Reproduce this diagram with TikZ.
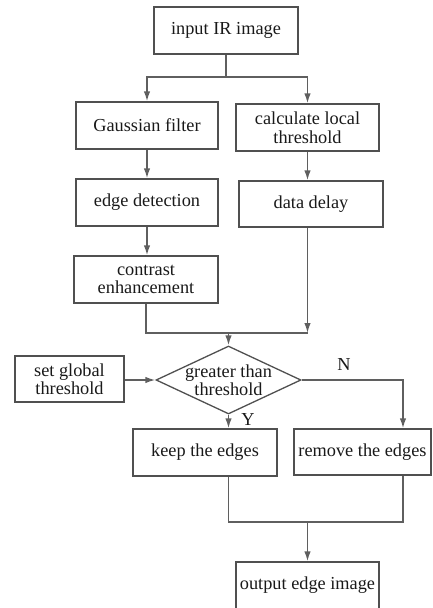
\documentclass[tikz,border=0pt]{standalone}
\usepackage{fontspec}
\setmainfont{Liberation Serif}
\usetikzlibrary{shapes.geometric,arrows.meta}

\definecolor{linegray}{RGB}{95,95,95}
\definecolor{boxgray}{RGB}{80,80,80}
\definecolor{textdark}{RGB}{25,25,25}

\tikzset{
    box/.style={draw=boxgray, line width=1.4pt, rectangle, inner sep=0pt,
        minimum height=47pt, align=center, text=textdark,
        font=\fontsize{18.3}{18.5}\selectfont},
    decision/.style={draw=boxgray, line width=1.3pt, diamond, aspect=2.13,
        inner sep=-6pt, minimum width=145pt, minimum height=68pt,
        align=center, text=textdark, font=\fontsize{18.3}{18.5}\selectfont},
    flow/.style={draw=linegray, line width=1.5pt},
    tag/.style={text=textdark, inner sep=0pt, font=\fontsize{18.3}{18.5}\selectfont}
}

\begin{document}
\begin{tikzpicture}[x=1pt, y=-1pt, >={Latex[length=10pt,width=6.5pt]}]
    % Page frame
    \useasboundingbox (0,0) rectangle (432,608);
    \clip (0,0) rectangle (432,608);

    % Boxes
    \node[box, minimum width=144pt] (input) at (226,30.5) {input IR image};
    \node[box, minimum width=142pt] (gauss) at (147,125.5) {Gaussian filter};
    \node[box, minimum width=143pt] (calc) at (307.5,127.5) {calculate local\\threshold};
    \node[box, minimum width=142pt] (edge) at (147,202.5) {edge detection};
    \node[box, minimum width=144pt, minimum height=46pt] (delay) at (311,204) {data delay};
    \node[box, minimum width=144pt] (contrast) at (146,279.5) {contrast\\enhancement};
    \node[box, minimum width=109pt, minimum height=46pt] (global) at (69.5,379) {set global\\threshold};
    \node[decision] (cmp) at (228.5,380) {greater than\\threshold};
    \node[box, minimum width=144pt] (keep) at (205,452.5) {keep the edges};
    \node[box, minimum width=137pt, minimum height=46pt] (remove) at (362.5,452) {remove the edges};
    \node[box, minimum width=143pt] (output) at (307.5,585.5) {output edge image};

    % Branch points
    \coordinate (split) at (226,77);
    \coordinate (join) at (228.5,333);
    \coordinate (nturn) at (403,380);
    \coordinate (merge) at (307.5,522);

    % Upper part
    \draw[flow] (input) -- (split);
    \draw[flow, ->] (split) -| (gauss.north);
    \draw[flow, ->] (split) -| (calc.north);
    \draw[flow, ->] (gauss) -- (edge);
    \draw[flow, ->] (edge.south) -- (edge.south |- contrast.north);
    \draw[flow, ->] (calc.south) -- (calc.south |- delay.north);
    \draw[flow, ->] (delay.south -| calc.south) -- (join -| calc.south);
    \draw[flow] (contrast.south) |- (join -| calc.south);
    \draw[flow, ->] (join) -- (cmp.north);

    % Decision
    \draw[flow, ->] (global.east |- cmp.west) -- (cmp.west);
    \draw[flow, ->] (cmp.south) -- (cmp.south |- keep.north);
    \draw[flow, ->] (cmp.east) -- (nturn) -- (nturn |- remove.north);
    \node[tag] (ylab) at (248,420) {Y};
    \node[tag] (nlab) at (344,365) {N};

    % Lower part
    \draw[flow] (keep.south -| cmp.south) |- (nturn |- merge) -- (nturn |- remove.south);
    \draw[flow, ->] (merge) -- (output.north);
\end{tikzpicture}
\end{document}
